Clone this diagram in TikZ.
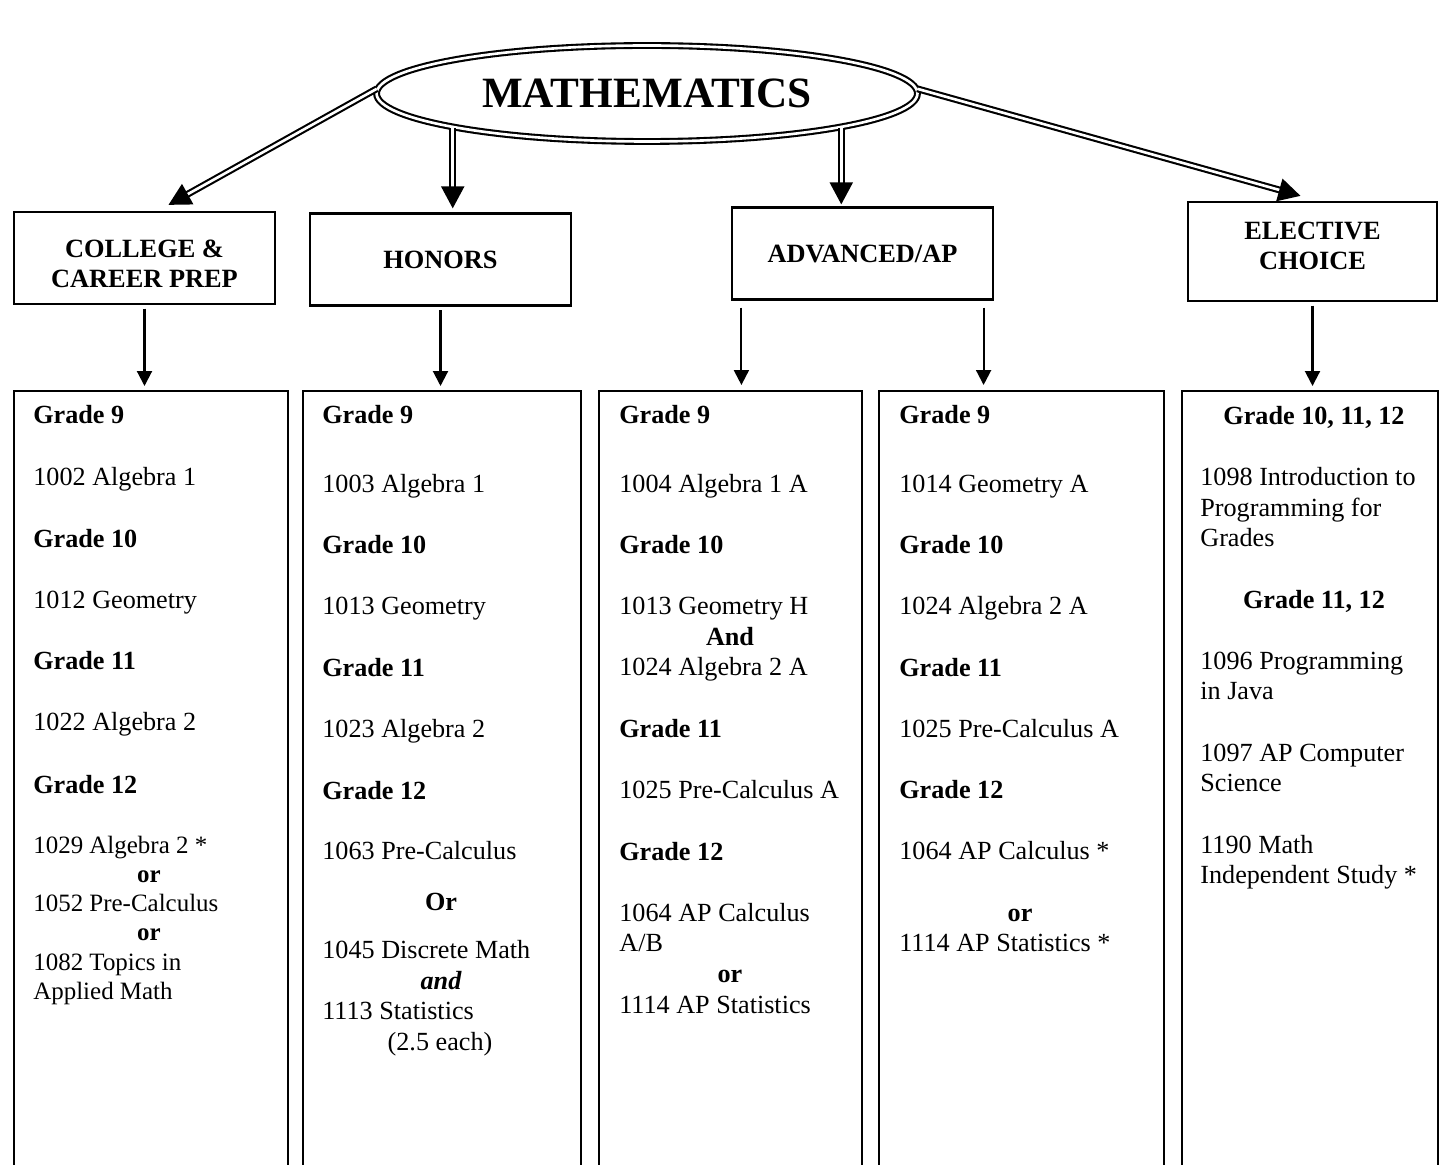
\documentclass[tikz,border=0pt]{standalone}
\usepackage{fontspec}
\setmainfont{Liberation Serif}
\usetikzlibrary{shapes.geometric, arrows.meta, calc, positioning}

\newcommand{\bodysize}{\fontsize{14.9}{17.6}\selectfont}
\newcommand{\smallbody}{\fontsize{14.2}{17}\selectfont}
\newcommand{\headsize}{\fontsize{15}{17}\selectfont\bfseries}
\newcommand{\shifttext}[2]{\raisebox{#1}[\height][\depth]{\begin{tabular}{@{}c@{}}#2\end{tabular}}}

\tikzset{
	headbox/.style={draw, line width=1.3pt, minimum width=5.22cm, minimum height=1.84cm, align=center, font=\headsize},
	listbox/.style={draw, line width=1.3pt, anchor=north west, minimum height=16cm, inner sep=0pt},
	arr/.style={-{Triangle[width=0.3cm,length=0.3cm]}, line width=1.2pt},
	dbl/.style={-{Triangle[width=0.46cm,length=0.44cm]}, line width=1.2pt, double, double distance=1.5pt},
	entry/.style={anchor=base west, inner sep=0pt, font=\bodysize},
	midentry/.style={anchor=base, inner sep=0pt, font=\bodysize\bfseries},
}

\begin{document}
\begin{tikzpicture}[x=0.02cm, y=-0.02cm]
	\useasboundingbox (0,0) rectangle (1439,1165);
	\clip (0,0) rectangle (1439,1165);
	
	\node[ellipse, draw, line width=1.2pt, double, double distance=1.5pt, minimum width=10.82cm, minimum height=1.92cm,
		font=\fontsize{24.6}{28}\selectfont\bfseries] (math) at (647,93.5) {MATHEMATICS};
	
	\node[headbox] (ccp) at (144.5,258) {\shifttext{-4.8pt}{COLLEGE \&\\CAREER PREP}};
	\node[headbox] (hon) at (440.5,259.5) {HONORS};
	\node[headbox] (adv) at (862.5,253.5) {ADVANCED/AP};
	\node[headbox, minimum width=4.98cm, minimum height=1.98cm] (elec) at (1312.5,251.5) {\shifttext{1.6pt}{ELECTIVE\\CHOICE}};
	
	\node[listbox, minimum width=5.48cm] (list1) at (13,390) {};
	\node[listbox, minimum width=5.56cm] (list2) at (302,390) {};
	\node[listbox, minimum width=5.26cm] (list3) at (598,390) {};
	\node[listbox, minimum width=5.70cm] (list4) at (878,390) {};
	\node[listbox, minimum width=5.12cm] (list5) at (1181,390) {};
	
	\draw[dbl] (math.179) -- ($(ccp.north)+(24,-6)$);
	\draw[dbl, shorten >=0.08cm] (math.190) -- (math.190 |- hon.north);
	\draw[dbl, shorten >=0.04cm] (math.350) -- (math.350 |- adv.north);
	\draw[dbl] (math.1) -- ($(elec.north)+(-12,-5)$);
	
	\coordinate (advL) at ($(adv.south west)!0.04!(adv.south east)$);
	\coordinate (advR) at ($(adv.south west)!0.96!(adv.south east)$);
	\draw[arr, shorten <=2pt, shorten >=0.08cm] (ccp.south) -- (ccp.south |- list1.north);
	\draw[arr, shorten <=2pt, shorten >=0.08cm] (hon.south) -- (hon.south |- list2.north);
	\draw[arr, shorten <=4pt, shorten >=0.1cm] (advL) -- (advL |- list3.north);
	\draw[arr, shorten <=4pt, shorten >=0.1cm] (advR) -- (advR |- list4.north);
	\draw[arr, shorten <=2pt, shorten >=0.08cm] (elec.south) -- (elec.south |- list5.north);
	
	% college & career prep
	\foreach \n/\y/\t in {1/423/\textbf{Grade 9}, 2/485/1002 Algebra 1, 3/547/\textbf{Grade 10}, 4/608/1012 Geometry,
		5/669/\textbf{Grade 11}, 6/730/1022 Algebra 2, 7/793/\textbf{Grade 12}}
	\node[entry] (ccp-\n) at (33,\y) {\t};
	\foreach \n/\y/\t in {8/853/1029 Algebra 2 *, 9/911/1052 Pre-Calculus, 10/970/1082 Topics in, 11/999/Applied Math}
	\node[entry, font=\smallbody] (ccp-\n) at (33,\y) {\t};
	\node[midentry, font=\smallbody\bfseries] (ccp-or1) at (149,882) {or};
	\node[midentry, font=\smallbody\bfseries] (ccp-or2) at (149,940) {or};
	
	% honors
	\foreach \n/\y/\t in {1/423/\textbf{Grade 9}, 2/492/1003 Algebra 1, 3/553/\textbf{Grade 10}, 4/614/1013 Geometry,
		5/676/\textbf{Grade 11}, 6/737/1023 Algebra 2, 7/799/\textbf{Grade 12}, 8/859/1063 Pre-Calculus,
		9/958/1045 Discrete Math, 10/1019/1113 Statistics}
	\node[entry] (hon-\n) at (322,\y) {\t};
	\node[midentry] (hon-or) at (441,910) {Or};
	\node[midentry] (hon-and) at (441,989) {\itshape and};
	\node[midentry, font=\bodysize] (hon-each) at (440,1050) {(2.5 each)};
	
	% advanced, left column
	\foreach \n/\y/\t in {1/423/\textbf{Grade 9}, 2/492/1004 Algebra 1 A, 3/553/\textbf{Grade 10}, 4/614/1013 Geometry H,
		5/675/1024 Algebra 2 A, 6/737/\textbf{Grade 11}, 7/798/1025 Pre-Calculus A, 8/860/\textbf{Grade 12},
		9/921/1064 AP Calculus, 10/951/{A/B}, 11/1013/1114 AP Statistics}
	\node[entry] (advA-\n) at (619,\y) {\t};
	\node[midentry] (advA-and) at (730,645) {And};
	\node[midentry] (advA-or) at (730,982) {or};
	
	% advanced, right column
	\foreach \n/\y/\t in {1/423/\textbf{Grade 9}, 2/492/1014 Geometry A, 3/553/\textbf{Grade 10}, 4/614/1024 Algebra 2 A,
		5/676/\textbf{Grade 11}, 6/737/1025 Pre-Calculus A, 7/798/\textbf{Grade 12}, 8/859/1064 AP Calculus *,
		9/951/1114 AP Statistics *}
	\node[entry] (advB-\n) at (899,\y) {\t};
	\node[midentry] (advB-or) at (1020,921) {or};
	
	% elective choice
	\foreach \n/\y/\t in {1/485/1098 Introduction to, 2/516/Programming for, 3/546/Grades, 4/669/1096 Programming,
		5/699/in Java, 6/761/1097 AP Computer, 7/791/Science, 8/853/1190 Math, 9/883/Independent Study *}
	\node[entry] (el-\n) at (1200,\y) {\t};
	\node[midentry] (el-g1) at (1314,424) {Grade 10, 11, 12};
	\node[midentry] (el-g2) at (1314,608) {Grade 11, 12};
\end{tikzpicture}
\end{document}
